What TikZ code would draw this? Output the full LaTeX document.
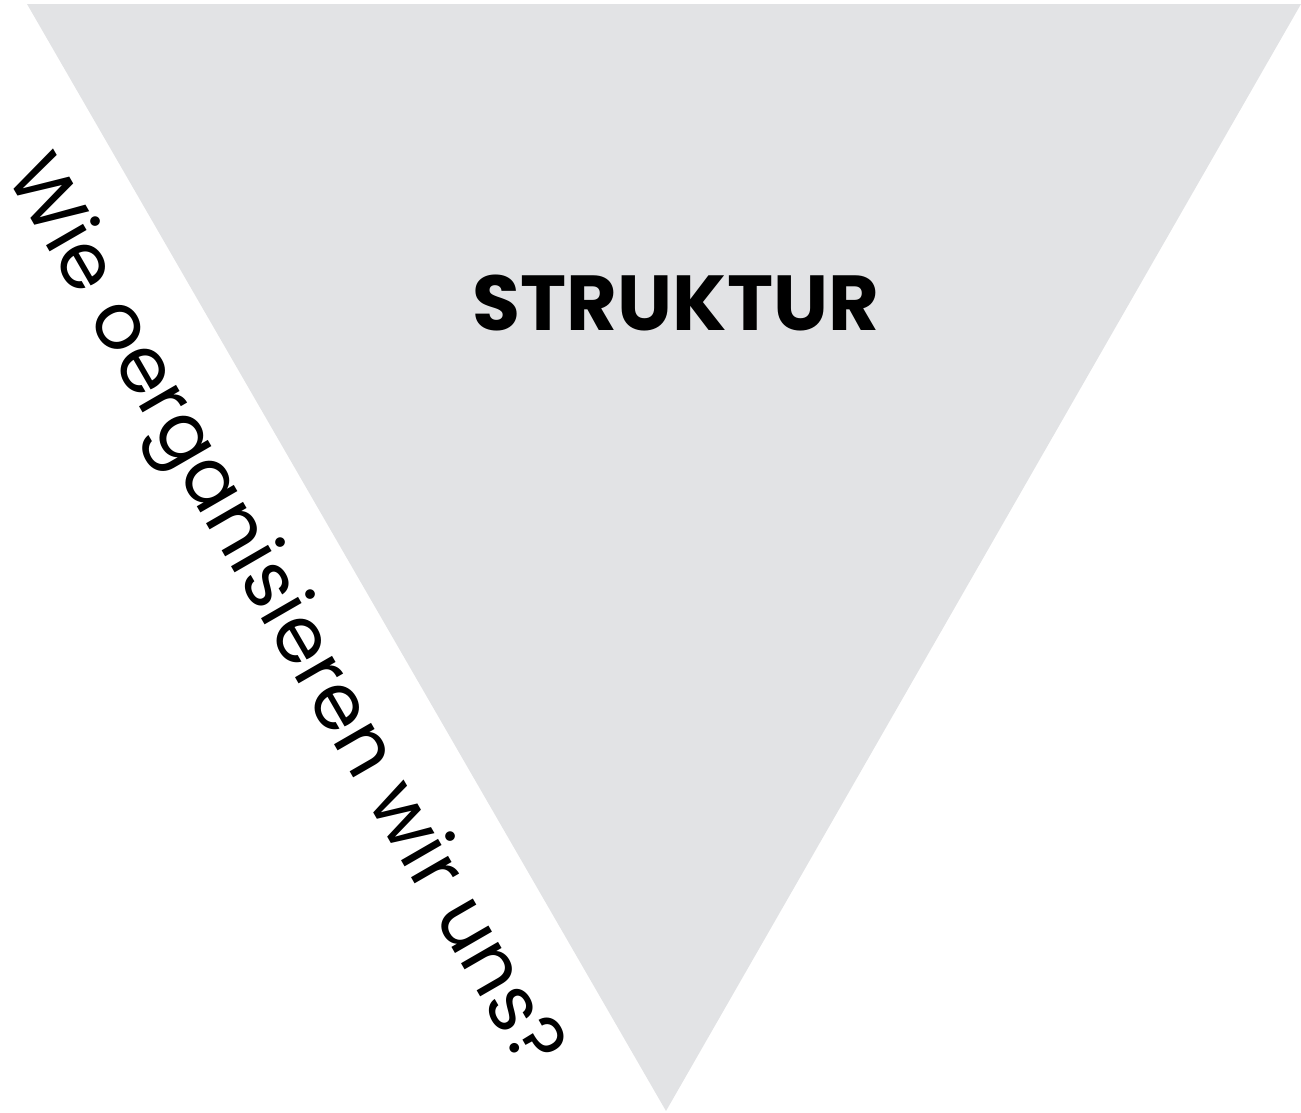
\documentclass[tikz,border=0pt]{standalone}
\usepackage{fontspec}
\setmainfont{Poppins}
\usepackage{tikz}
\usetikzlibrary{positioning}
\definecolor{trigray}{HTML}{E2E3E5}

\begin{document}
\begin{tikzpicture}[x=1pt,y=1pt,tri/.style={fill=trigray,draw=none},title/.style={font=\fontsize{78}{82}\selectfont\bfseries,inner sep=0pt},question/.style={font=\fontsize{78}{82}\selectfont,inner sep=0pt,rotate=-60}]
	\useasboundingbox	(0,0) rectangle (1301,-1112);
	\coordinate			(tl)	at (27,-4);
	\coordinate			(tr)	at (1301,-4);
	\coordinate			(bot)	at (666,-1111);
	
	\fill[tri]	(tl) -- (tr) -- (bot) -- cycle;
	
	\node[title]			(struktur)	at (676,-303)		{STRUKTUR};
	\node[question]			(frage)		at (281,-614)		{Wie oerganisieren wir uns?};
\end{tikzpicture}
\end{document}
